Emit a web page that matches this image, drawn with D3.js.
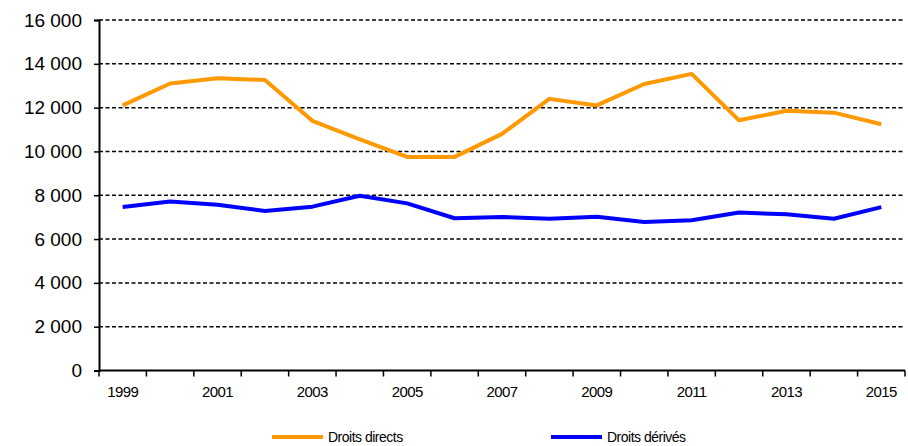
<!DOCTYPE html>
<html><head><meta charset="utf-8">
<script src="https://cdn.jsdelivr.net/npm/d3@7"></script>
<style>body{margin:0;background:#fff}svg{display:block;font-family:"Liberation Sans",Arial,sans-serif}</style>
</head><body><svg id="c" width="908" height="446"></svg>
<script>
const years = [1999,2000,2001,2002,2003,2004,2005,2006,2007,2008,2009,2010,2011,2012,2013,2014,2015];
const droitsDirects = [12100,13100,13340,13260,11400,10550,9750,9750,10800,12400,12100,13080,13540,11420,11860,11770,11240];
const droitsDerives = [7460,7710,7570,7280,7480,7980,7630,6950,7010,6930,7020,6780,6860,7210,7130,6930,7460];
const yTicks = [0,2000,4000,6000,8000,10000,12000,14000,16000];
const xLabels = [1999,2001,2003,2005,2007,2009,2011,2013,2015];
const seriesNames = ["Droits directs","Droits dérivés"];
const colors = ["#FF9900","#0000FF"];

const svg = d3.select("#c");
const x = d3.scaleBand().domain(years).range([99,905]);
const y = d3.scaleLinear().domain([0,16000]).range([370.5,20]);
const fmt = v => d3.format(",")(v).replace(/,/g," ");

// gridlines
svg.append("g").selectAll("line").data(yTicks.filter(d=>d>0)).join("line")
  .attr("x1",99).attr("x2",905).attr("y1",d=>y(d)).attr("y2",d=>y(d))
  .attr("stroke","#000").attr("stroke-width",1.5).attr("stroke-dasharray","4,2.5");

// y axis
const ya = svg.append("g").attr("transform","translate(99,0)")
  .call(d3.axisLeft(y).tickValues(yTicks).tickFormat(fmt).tickSize(5).tickPadding(12));
ya.select(".domain").attr("stroke","#000").attr("stroke-width",2);
ya.selectAll(".tick line").attr("stroke","#000").attr("stroke-width",1.5);
ya.selectAll("text").attr("font-size",19).attr("fill","#000").attr("font-family","Liberation Sans, Arial, sans-serif");

// x axis
const xa = svg.append("g").attr("transform","translate(0,370.5)");
xa.append("line").attr("x1",99).attr("x2",905).attr("stroke","#000").attr("stroke-width",2);
const bounds = years.map(d=>x(d)).concat([x(years[years.length-1])+x.bandwidth()]);
xa.selectAll("line.tk").data(bounds).join("line").attr("class","tk")
  .attr("x1",d=>d).attr("x2",d=>d).attr("y1",0).attr("y2",6).attr("stroke","#000").attr("stroke-width",1.5);
xa.selectAll("text").data(xLabels).join("text")
  .attr("x",d=>x(d)+x.bandwidth()/2).attr("y",26).attr("text-anchor","middle")
  .attr("font-size",15).attr("letter-spacing",-0.6).attr("fill","#000").text(d=>d);

// lines
const line = d3.line().x((d,i)=>x(years[i])+x.bandwidth()/2).y(d=>y(d));
[droitsDirects,droitsDerives].forEach((s,i)=>{
  svg.append("path").datum(s).attr("d",line).attr("fill","none")
    .attr("stroke",colors[i]).attr("stroke-width",4).attr("stroke-linejoin","round");
});

// legend
const lg = [{x:272,name:seriesNames[0],c:colors[0]},{x:551,name:seriesNames[1],c:colors[1]}];
lg.forEach(l=>{
  svg.append("line").attr("x1",l.x).attr("x2",l.x+51).attr("y1",437).attr("y2",437)
    .attr("stroke",l.c).attr("stroke-width",4);
  svg.append("text").attr("x",l.x+56).attr("y",442).attr("font-size",14).attr("letter-spacing",-0.5)
    .attr("fill","#000").text(l.name);
});
</script></body></html>
